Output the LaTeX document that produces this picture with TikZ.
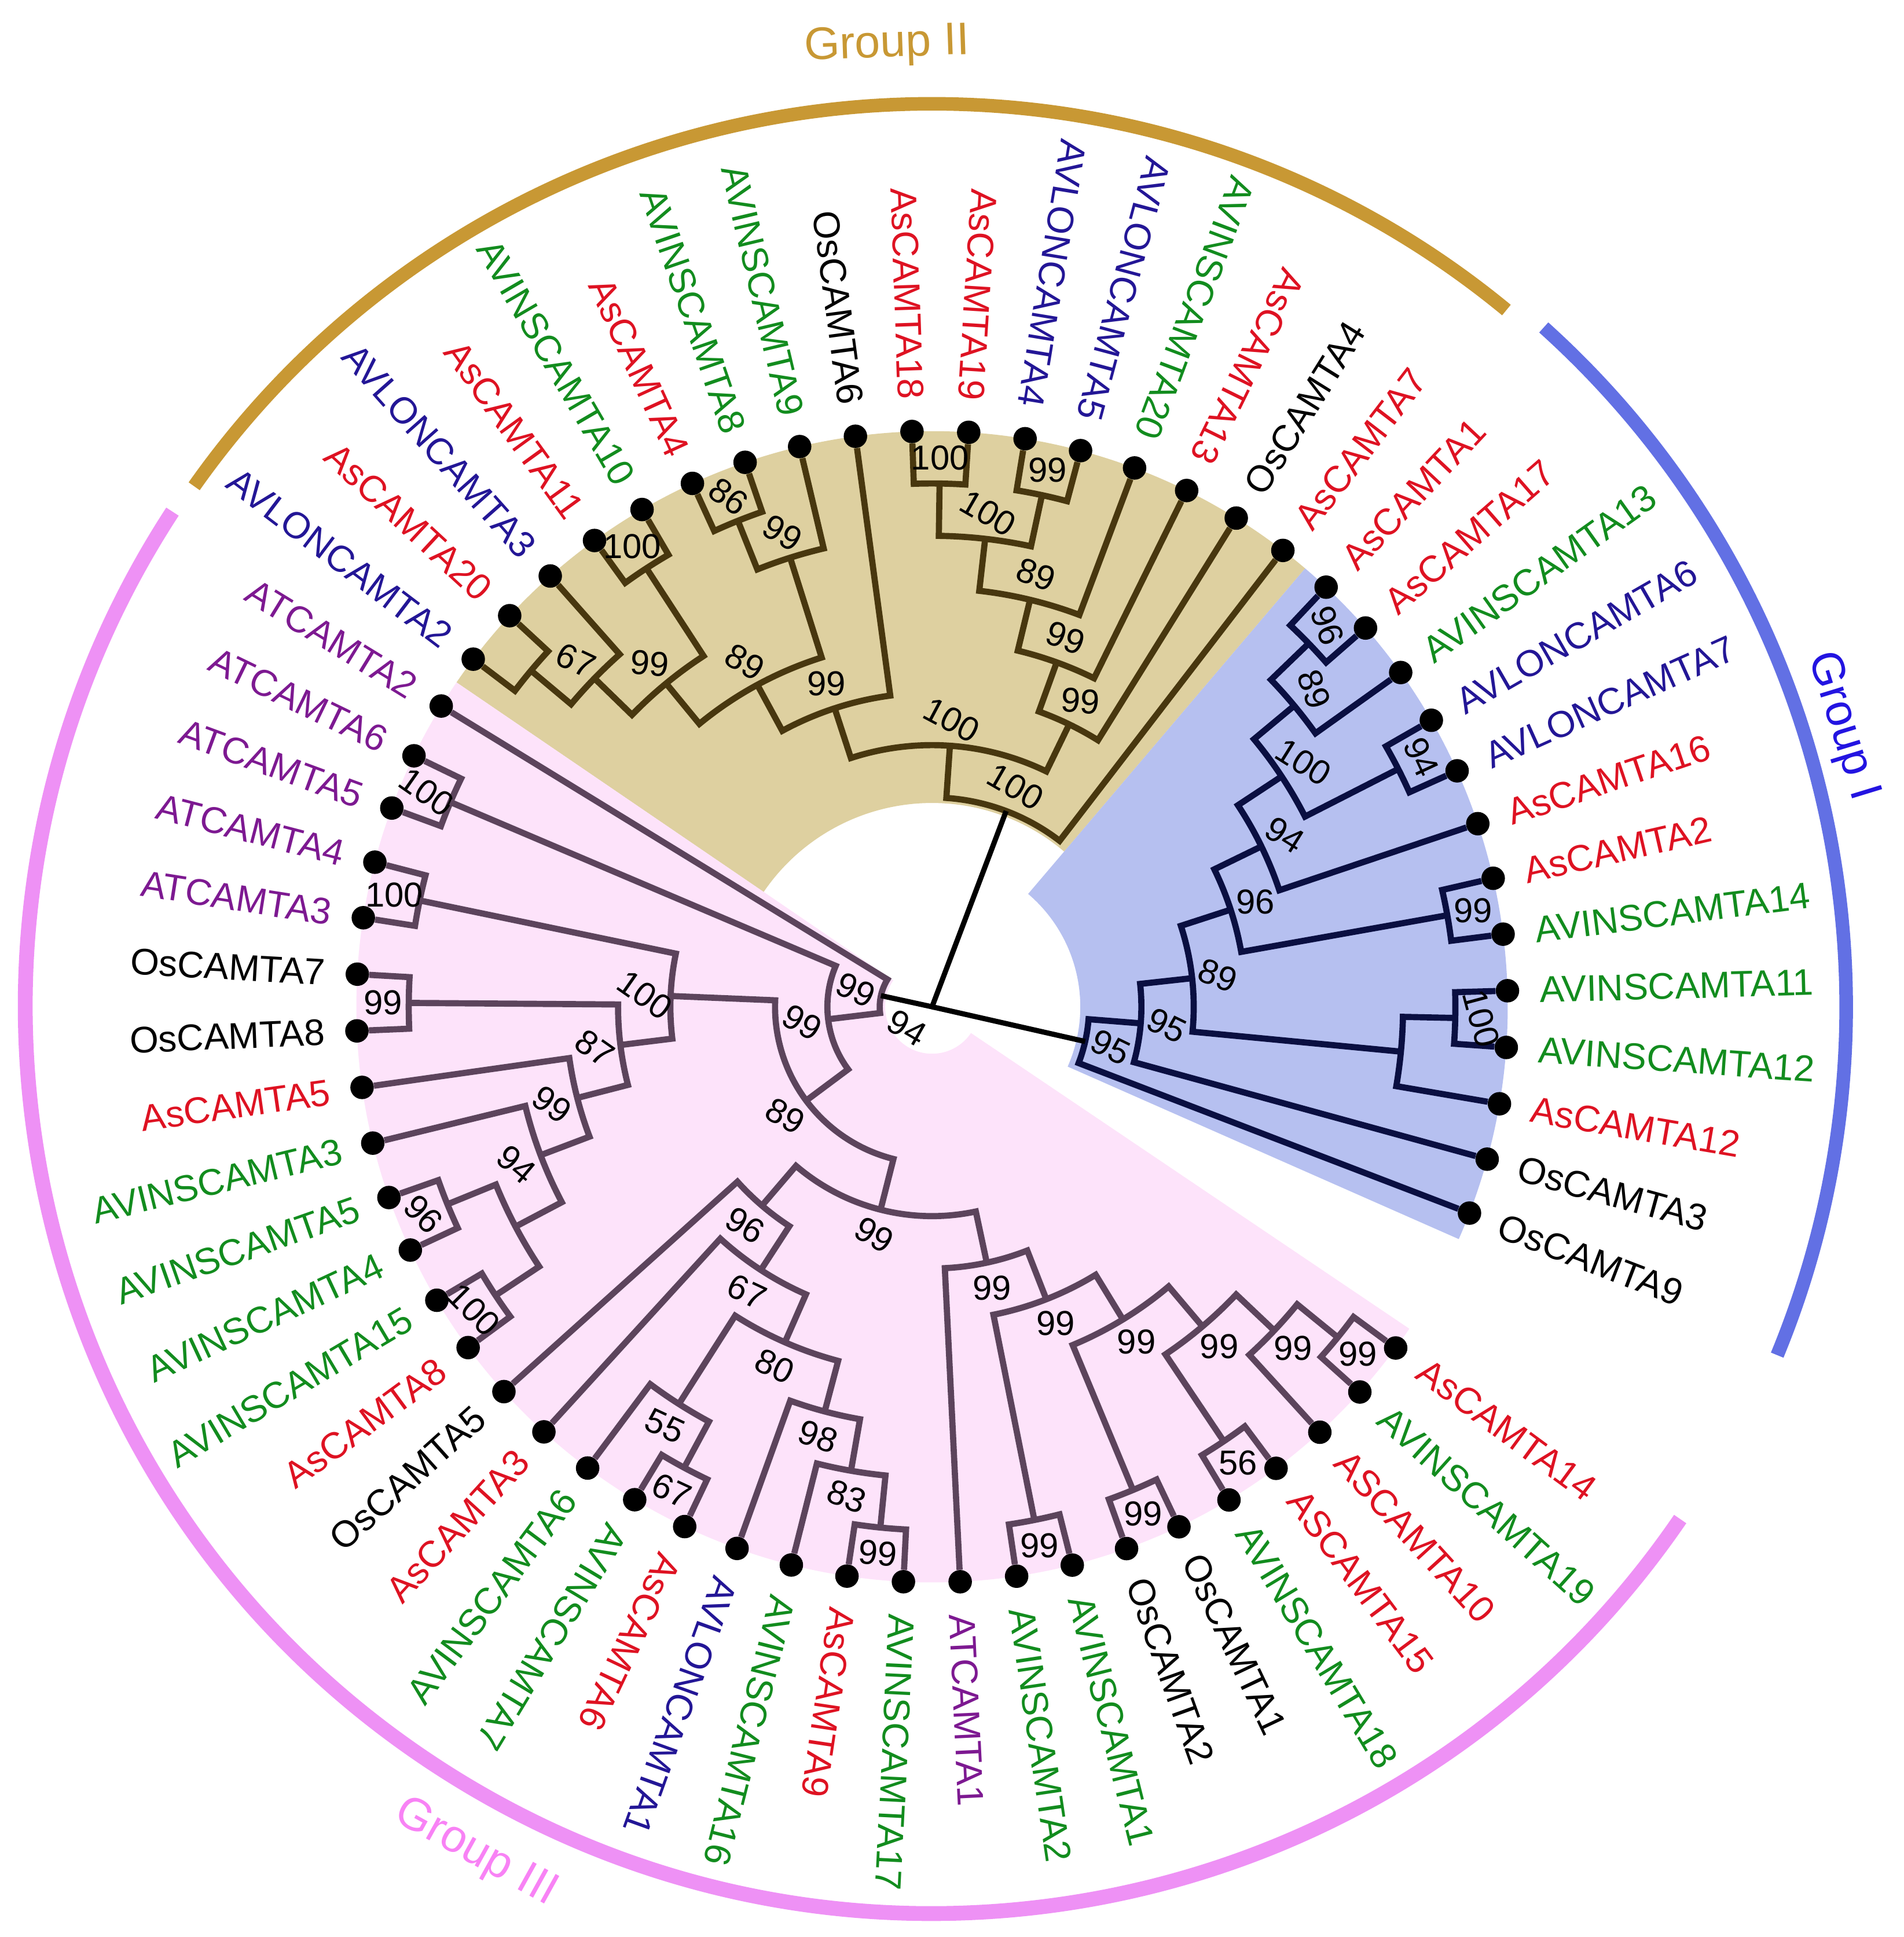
\documentclass[tikz,border=0pt]{standalone}
\usepackage{fontspec}
\setmainfont{Liberation Sans}

\definecolor{asred}{RGB}{222,18,34}
\definecolor{avgreen}{RGB}{18,140,30}
\definecolor{alblue}{RGB}{35,22,150}
\definecolor{atpurple}{RGB}{125,25,145}
\definecolor{g2gold}{RGB}{200,152,52}
\definecolor{g2fill}{RGB}{222,208,160}
\definecolor{g2line}{RGB}{72,55,15}
\definecolor{g1arc}{RGB}{98,112,228}
\definecolor{g1text}{RGB}{35,20,225}
\definecolor{g1fill}{RGB}{182,192,240}
\definecolor{g1line}{RGB}{10,15,65}
\definecolor{g3arc}{RGB}{238,145,245}
\definecolor{g3text}{RGB}{248,130,245}
\definecolor{g3fill}{RGB}{253,227,250}
\definecolor{g3line}{RGB}{92,68,92}
\colorlet{brcol}{black}

\tikzset{
  dot/.style={circle, fill=black, inner sep=0pt, minimum size=19pt},
  leaf/.style={inner sep=0pt, font=\fontsize{30}{32}\selectfont},
  boot/.style={inner sep=0pt, font=\fontsize{28}{30}\selectfont},
  grp/.style={inner sep=0pt, font=\fontsize{37}{40}\selectfont},
  br/.style={line width=5pt, draw=brcol},
  rootline/.style={line width=4.2pt, draw=black},
}

\newcommand{\taxon}[4]{%
  \pgfmathsetmacro\tipang{-21+5.65*#2}%
  \expandafter\xdef\csname ang@#1\endcsname{\tipang}%
  \node[dot] (#1) at (\tipang:466) {};
  \pgfmathtruncatemacro\tipflip{(\tipang>61)&&(\tipang<236)}%
  \ifnum\tipflip=1
    \node[leaf, text=#4, anchor=east, rotate=\tipang+180] (#1-txt) at (\tipang:492) {#3};
  \else
    \node[leaf, text=#4, anchor=west, rotate=\tipang] (#1-txt) at (\tipang:492) {#3};
  \fi
}

\newcommand{\clade}[6]{%
  \edef\cA{\csname ang@#2\endcsname}%
  \edef\cB{\csname ang@#3\endcsname}%
  \pgfmathsetmacro\crad{466*(1-#4/11)}%
  \pgfmathsetmacro\cang{(\cA+\cB)/2}%
  \pgfmathsetmacro\brad{\crad+21}%
  \expandafter\xdef\csname ang@#1\endcsname{\cang}%
  \coordinate (#1) at (\cang:\crad);
  \draw[br] (#2) -- (\cA:\crad) arc[start angle=\cA, end angle=\cB, radius=\crad] -- (#3);
  \if\relax\detokenize{#5}\relax\else
    \node[boot, rotate=#6] (#1-bs) at (\cang:\brad) {#5};
  \fi
}

\begin{document}
\begin{tikzpicture}[x=1pt, y=1pt]
\useasboundingbox (-754.5,-753) rectangle (786.5,815);

\fill[g2fill] (49.6:165) -- (49.6:466) arc[start angle=49.6, end angle=145.7, radius=466]
  -- (145.7:165) arc[start angle=145.7, end angle=49.6, radius=165] -- cycle;
\fill[g1fill] (-23.8:120) -- (-23.8:466) arc[start angle=-23.8, end angle=49.6, radius=466]
  -- (49.6:120) arc[start angle=49.6, end angle=-23.8, radius=120] -- cycle;
\fill[g3fill] (145.7:38) -- (145.7:466) arc[start angle=145.7, end angle=326, radius=466]
  -- (326:38) arc[start angle=326, end angle=145.7, radius=38] -- cycle;

\draw[g2gold, line width=11pt] (50.5:731) arc[start angle=50.5, end angle=144.8, radius=731];
\draw[g1arc, line width=11pt] (-22.4:740) arc[start angle=-22.4, end angle=48, radius=740];
\draw[g3arc, line width=12pt] (146.9:734) arc[start angle=146.9, end angle=325.6, radius=734];
\node[grp, text=g2gold, rotate=2] (lab-g2) at (-36.5,778) {Group II};
\node[grp, text=g1text, rotate=-73] (lab-g1) at (736.5,227) {Group I};
\node[grp, text=g3text, rotate=-29] (lab-g3) at (-369.5,-685) {Group III};

\colorlet{brcol}{g1line}
\taxon{os9}{0}{OsCAMTA9}{black}
\taxon{os3}{1}{OsCAMTA3}{black}
\taxon{as12}{2}{AsCAMTA12}{asred}
\taxon{avi12}{3}{AVINSCAMTA12}{avgreen}
\taxon{avi11}{4}{AVINSCAMTA11}{avgreen}
\taxon{avi14}{5}{AVINSCAMTA14}{avgreen}
\taxon{as2}{6}{AsCAMTA2}{asred}
\taxon{as16}{7}{AsCAMTA16}{asred}
\taxon{avl7}{8}{AVLONCAMTA7}{alblue}
\taxon{avl6}{9}{AVLONCAMTA6}{alblue}
\taxon{avi13}{10}{AVINSCAMTA13}{avgreen}
\taxon{as17}{11}{AsCAMTA17}{asred}
\taxon{as1}{12}{AsCAMTA1}{asred}
\clade{a1}{as17}{as1}{1}{96}{-70}
\clade{a2}{a1}{avi13}{2}{89}{-70}
\clade{a3}{avl7}{avl6}{1}{94}{-65}
\clade{a4}{a2}{a3}{3}{100}{-32}
\clade{a5}{a4}{as16}{4}{94}{-32}
\clade{a6}{avi14}{as2}{1}{99}{0}
\clade{a7}{a5}{a6}{5}{96}{0}
\clade{a8}{avi12}{avi11}{1}{100}{-75}
\clade{a9}{a8}{as12}{2}{}{0}
\clade{a10}{a7}{a9}{6}{89}{-20}
\clade{a11}{a10}{os3}{7}{95}{-26}
\clade{g1root}{a11}{os9}{8}{95}{-26}

\colorlet{brcol}{g2line}
\taxon{as7}{13}{AsCAMTA7}{asred}
\taxon{os4}{14}{OsCAMTA4}{black}
\taxon{as13}{15}{AsCAMTA13}{asred}
\taxon{avi20}{16}{AVINSCAMTA20}{avgreen}
\taxon{avl5}{17}{AVLONCAMTA5}{alblue}
\taxon{avl4}{18}{AVLONCAMTA4}{alblue}
\taxon{as19}{19}{AsCAMTA19}{asred}
\taxon{as18}{20}{AsCAMTA18}{asred}
\taxon{os6}{21}{OsCAMTA6}{black}
\taxon{avi9}{22}{AVINSCAMTA9}{avgreen}
\taxon{avi8}{23}{AVINSCAMTA8}{avgreen}
\taxon{as4}{24}{AsCAMTA4}{asred}
\taxon{avi10}{25}{AVINSCAMTA10}{avgreen}
\taxon{as11}{26}{AsCAMTA11}{asred}
\taxon{avl3}{27}{AVLONCAMTA3}{alblue}
\taxon{as20}{28}{AsCAMTA20}{asred}
\taxon{avl2}{29}{AVLONCAMTA2}{alblue}
\clade{b1}{as19}{as18}{1}{100}{0}
\clade{b2}{avl5}{avl4}{1}{99}{0}
\clade{b3}{b2}{b1}{2}{100}{-30}
\clade{b4}{avi20}{b3}{3}{89}{-20}
\clade{b5}{as13}{b4}{4}{99}{-20}
\clade{b6}{os4}{b5}{5}{99}{-5}
\clade{c1}{avi8}{as4}{1}{86}{-35}
\clade{c2}{avi9}{c1}{2}{99}{-30}
\clade{c3}{avi10}{as11}{1}{100}{0}
\clade{c5}{as20}{avl2}{1}{}{0}
\clade{c6}{avl3}{c5}{2}{67}{-25}
\clade{c7}{c3}{c6}{3}{99}{-5}
\clade{c8}{c2}{c7}{4}{89}{-30}
\clade{c9}{os6}{c8}{5}{99}{0}
\clade{b7}{b6}{c9}{6}{100}{-28}
\clade{g2root}{as7}{b7}{7}{100}{-30}

\colorlet{brcol}{g3line}
\taxon{at2}{30}{ATCAMTA2}{atpurple}
\taxon{at6}{31}{ATCAMTA6}{atpurple}
\taxon{at5}{32}{ATCAMTA5}{atpurple}
\taxon{at4}{33}{ATCAMTA4}{atpurple}
\taxon{at3}{34}{ATCAMTA3}{atpurple}
\taxon{os7}{35}{OsCAMTA7}{black}
\taxon{os8}{36}{OsCAMTA8}{black}
\taxon{as5}{37}{AsCAMTA5}{asred}
\taxon{avi3}{38}{AVINSCAMTA3}{avgreen}
\taxon{avi5}{39}{AVINSCAMTA5}{avgreen}
\taxon{avi4}{40}{AVINSCAMTA4}{avgreen}
\taxon{avi15}{41}{AVINSCAMTA15}{avgreen}
\taxon{as8}{42}{AsCAMTA8}{asred}
\taxon{os5}{43}{OsCAMTA5}{black}
\taxon{as3}{44}{AsCAMTA3}{asred}
\taxon{avi6}{45}{AVINSCAMTA6}{avgreen}
\taxon{avi7}{46}{AVINSCAMTA7}{avgreen}
\taxon{as6}{47}{AsCAMTA6}{asred}
\taxon{avl1}{48}{AVLONCAMTA1}{alblue}
\taxon{avi16}{49}{AVINSCAMTA16}{avgreen}
\taxon{as9}{50}{AsCAMTA9}{asred}
\taxon{avi17}{51}{AVINSCAMTA17}{avgreen}
\taxon{at1}{52}{ATCAMTA1}{atpurple}
\taxon{avi2}{53}{AVINSCAMTA2}{avgreen}
\taxon{avi1}{54}{AVINSCAMTA1}{avgreen}
\taxon{os2}{55}{OsCAMTA2}{black}
\taxon{os1}{56}{OsCAMTA1}{black}
\taxon{avi18}{57}{AVINSCAMTA18}{avgreen}
\taxon{as15}{58}{ASCAMTA15}{asred}
\taxon{as10}{59}{ASCAMTA10}{asred}
\taxon{avi19}{60}{AVINSCAMTA19}{avgreen}
\taxon{as14}{61}{AsCAMTA14}{asred}
\clade{d1}{at6}{at5}{1}{100}{-35}
\clade{d2}{at4}{at3}{1}{100}{0}
\clade{e1}{os7}{os8}{1}{99}{0}
\clade{d8}{avi5}{avi4}{1}{96}{-45}
\clade{d9}{avi15}{as8}{1}{100}{-45}
\clade{d7}{d8}{d9}{2}{}{0}
\clade{d6}{avi3}{d7}{3}{94}{-40}
\clade{d5}{as5}{d6}{4}{99}{-35}
\clade{d4}{e1}{d5}{5}{87}{-35}
\clade{d3}{d2}{d4}{6}{100}{-35}
\clade{f7}{avi7}{as6}{1}{67}{-25}
\clade{f5}{avi6}{f7}{2}{55}{-25}
\clade{f9}{as9}{avi17}{1}{99}{-5}
\clade{f8}{avi16}{f9}{2}{83}{-20}
\clade{f6}{avl1}{f8}{3}{98}{-20}
\clade{f4}{f5}{f6}{4}{80}{-25}
\clade{f3}{as3}{f4}{5}{67}{-25}
\clade{f1}{os5}{f3}{6}{96}{-30}
\clade{f17}{avi19}{as14}{1}{99}{0}
\clade{f16}{as10}{f17}{2}{99}{0}
\clade{f15}{avi18}{as15}{1}{56}{0}
\clade{f14}{f15}{f16}{3}{99}{0}
\clade{f13}{os2}{os1}{1}{99}{0}
\clade{f12}{f13}{f14}{4}{99}{0}
\clade{f11}{avi2}{avi1}{1}{99}{0}
\clade{f10}{f11}{f12}{5}{99}{0}
\clade{f2}{at1}{f10}{6}{99}{0}
\clade{n99}{f1}{f2}{7}{99}{-30}
\clade{n89}{d3}{n99}{8}{89}{-29}
\clade{n3b}{d1}{n89}{9}{99}{-30}
\clade{g3root}{at2}{n3b}{10}{99}{-25}

\coordinate (root) at (0,0);
\draw[rootline] (g3root) -- (root) -- (g2root);
\draw[rootline] (root) -- (g1root);
\node[boot, rotate=-30] (root-bs) at (-20.5,-17) {94};
\end{tikzpicture}
\end{document}
